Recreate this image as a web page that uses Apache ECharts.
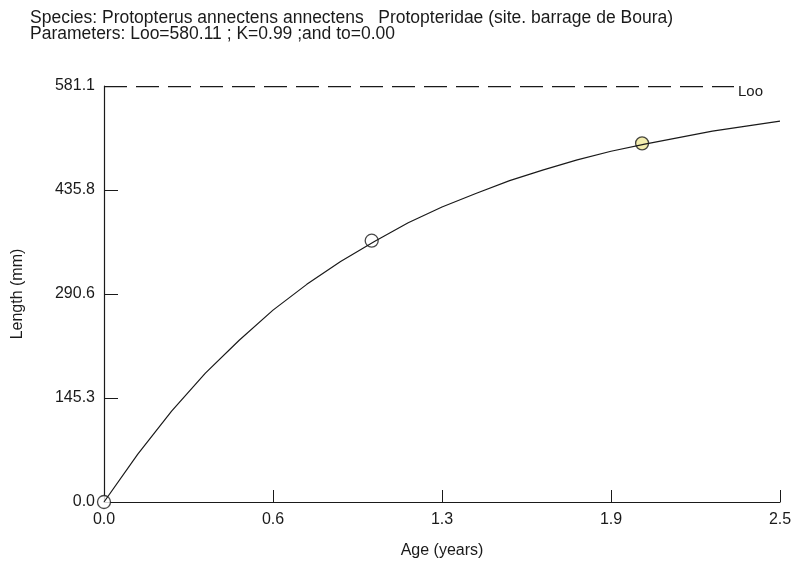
<!DOCTYPE html>
<html>
<head>
<meta charset="utf-8">
<script src="https://cdn.jsdelivr.net/npm/echarts@6/dist/echarts.min.js"></script>
<style>
  html, body { margin: 0; padding: 0; background: #fff; }
  #growth-chart { width: 795px; height: 567px; }
</style>
</head>
<body>
<div id="growth-chart"></div>
<script>
// growth curve (age in years, length in mm)
var curveAge = [0, 0.125, 0.25, 0.375, 0.5, 0.625, 0.75, 0.875, 1.0, 1.125, 1.25,
  1.375, 1.5, 1.625, 1.75, 1.875, 2.0, 2.125, 2.25, 2.375, 2.5];
var curveLength = [0, 67, 127, 180, 226, 268, 304, 336, 364, 390, 412,
  431, 449, 464, 478, 490, 500, 509, 518, 525, 532];

// observed points (circles)
var obsAge = [0, 0.99, 1.99];
var obsLength = [0, 365, 501];
var obsFill = ["#ffffff", "rgba(0,0,0,0)", "#f0e89a"];

// asymptote Loo
var lInf = 580.11;
var lInfEnd = 2.33;

// tick labels
var xTickLabels = ["0.0", "0.6", "1.3", "1.9", "2.5"];
var yTickLabels = ["0.0", "145.3", "290.6", "435.8", "581.1"];

var titleLines = [
  "Species: Protopterus annectens annectens   Protopteridae (site. barrage de Boura)",
  "Parameters: Loo=580.11 ; K=0.99 ;and to=0.00"
];

var font = "'Liberation Sans', Arial, sans-serif";
var ink = "#1a1a1a";

var chart = echarts.init(document.getElementById("growth-chart"));

var option = {
  animation: false,
  backgroundColor: "#fff",
  title: {
    text: titleLines.join("\n"),
    left: 25,
    top: 5,
    textStyle: {
      fontFamily: font,
      fontSize: 17.5,
      fontWeight: "normal",
      lineHeight: 16,
      color: ink
    }
  },
  grid: {
    left: 104,
    right: 15,
    top: 86,
    bottom: 65,
    containLabel: false
  },
  xAxis: {
    type: "value",
    min: 0,
    max: 2.5,
    interval: 0.625,
    name: "Age (years)",
    nameLocation: "middle",
    nameGap: 41,
    nameTextStyle: { fontFamily: font, fontSize: 16, color: ink },
    axisLine: { lineStyle: { color: ink, width: 1.2 } },
    axisTick: { inside: true, length: 12, lineStyle: { color: ink } },
    axisLabel: {
      margin: 10,
      fontFamily: font,
      fontSize: 16,
      color: ink,
      formatter: function (value, index) {
        return xTickLabels[index];
      }
    },
    splitLine: { show: false }
  },
  yAxis: {
    type: "value",
    min: 0,
    max: 581.1,
    interval: 145.275,
    name: "Length (mm)",
    nameLocation: "middle",
    nameGap: 78,
    nameRotate: 90,
    nameTextStyle: { fontFamily: font, fontSize: 16, color: ink },
    axisLine: { show: true, lineStyle: { color: ink, width: 1.2 } },
    axisTick: { show: true, inside: true, length: 14, lineStyle: { color: ink } },
    axisLabel: {
      margin: 9,
      fontFamily: font,
      fontSize: 16,
      color: ink,
      formatter: function (value, index) {
        return yTickLabels[index];
      }
    },
    splitLine: { show: false }
  },
  series: [
    {
      name: "Loo",
      type: "line",
      data: [[0, lInf], [lInfEnd, lInf]],
      showSymbol: false,
      lineStyle: { color: ink, width: 1.2, type: [23, 9] },
      endLabel: {
        show: true,
        formatter: "Loo",
        offset: [-4, 5],
        fontFamily: font,
        fontSize: 15,
        color: ink
      },
      z: 2
    },
    {
      name: "observed",
      type: "scatter",
      symbol: "circle",
      symbolSize: 13,
      data: obsAge.map(function (a, i) {
        return {
          value: [a, obsLength[i]],
          itemStyle: { color: obsFill[i], borderColor: ink, borderWidth: 1.3 }
        };
      }),
      z: 1
    },
    {
      name: "growth",
      type: "line",
      data: curveAge.map(function (a, i) {
        return [a, curveLength[i]];
      }),
      showSymbol: false,
      lineStyle: { color: ink, width: 1.2 },
      z: 3
    }
  ]
};

option && chart.setOption(option);
</script>
</body>
</html>
